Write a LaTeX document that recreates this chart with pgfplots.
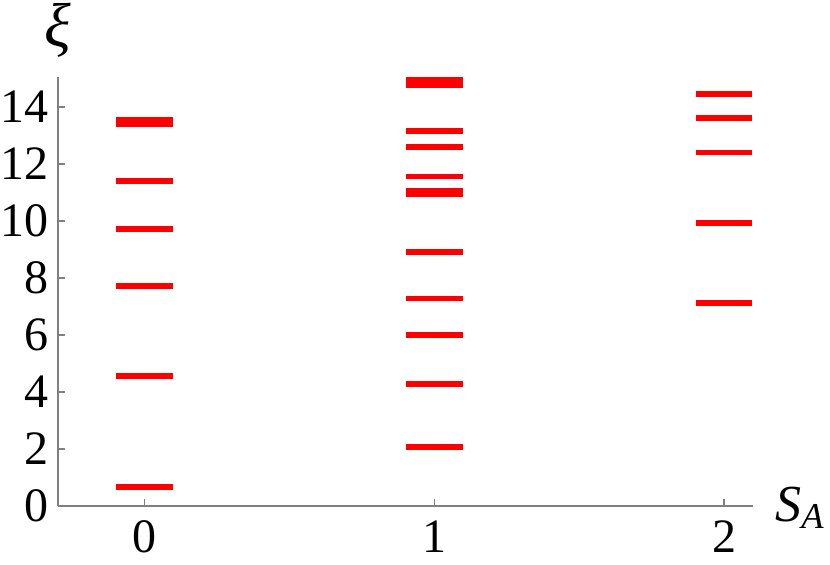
\documentclass[border=0pt]{standalone}
\usepackage{pgfplots}
\pgfplotsset{compat=1.18}
\usepackage{fontspec}
\setmainfont{Liberation Serif}
\begin{document}
\begin{tikzpicture}
\begin{axis}[
  scale only axis,
  width=347.5pt, height=214.5pt,
  xmin=-0.3, xmax=2.1, ymin=0, ymax=15.05,
  axis lines*=left,
  axis line style={black!50, line width=0.6pt},
  xtick={0,1,2}, xticklabels={0,1,2},
  ytick={0,2,4,6,8,10,12,14}, yticklabels={0,2,4,6,8,10,12,14},
  minor tick num=0,
  tick align=inside,
  major tick length=3.7pt,
  tick style={black!50, line width=0.6pt},
  ticklabel style={font=\fontsize{24}{24}\rmfamily\selectfont, inner sep=0pt},
  xticklabel style={anchor=north, yshift=-7pt},
  yticklabel style={anchor=east, xshift=-4.5pt},
  clip=false,
]
\addplot[draw=none, mark=none, error bars/.cd, x dir=both, x fixed=0.098, error mark=none,
  error bar style={draw=red, solid, line width=2.9pt}] coordinates {
  (0,0.68) (0,4.56) (0,7.71) (0,9.73) (0,11.39) (0,13.39) (0,13.56)
  (1,2.07) (1,4.29) (1,6.0) (1,7.28) (1,8.91) (1,10.93) (1,11.05) (1,11.56) (1,12.60) (1,13.16) (1,14.76) (1,14.95)
  (2,7.12) (2,9.93) (2,12.40) (2,13.60) (2,14.46)
};
\end{axis}
\node[font=\fontsize{31}{31}\selectfont\itshape] at ([yshift=23.5pt]current axis.north west) {ξ};
\node[font=\fontsize{26}{26}\selectfont, anchor=base west, inner sep=0pt] at ([xshift=11pt, yshift=-7.5pt]current axis.south east) {\textit{S}\textsubscript{\textit{A}}};
\pgfresetboundingbox
\useasboundingbox ([xshift=-29pt, yshift=-29pt]current axis.south west) rectangle ++(415pt,282pt);
\end{tikzpicture}
\end{document}
